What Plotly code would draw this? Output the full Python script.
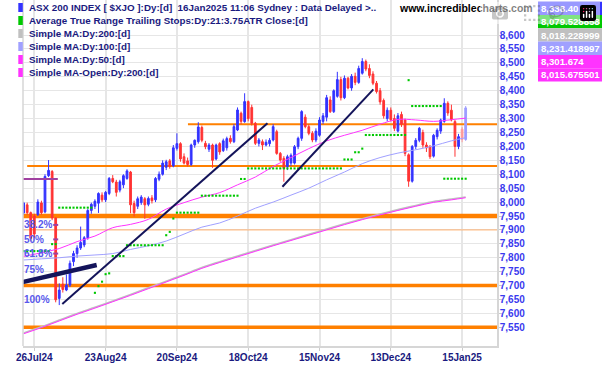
import plotly.graph_objects as go

# ---------------- data ----------------
date_tick_idx = [3, 23, 43, 63, 83, 103, 123]
date_tick_labels = ["26Jul24", "23Aug24", "20Sep24", "18Oct24", "15Nov24", "13Dec24", "15Jan25"]

opens = [7961, 7990, 7962, 7950, 7955, 7997, 7965, 8095, 8110, 7943,
         7654, 7705, 7684, 7702, 7786, 7815, 7835, 7846, 7872, 7970,
         7985, 7996, 8025, 8008, 8031, 8085, 8072, 8043, 8062, 8085,
         8108, 7995, 7985, 7998, 8012, 7992, 8015, 8008, 8082, 8100,
         8125, 8148, 8130, 8193, 8210, 8163, 8148, 8135, 8205, 8217,
         8268, 8211, 8190, 8205, 8155, 8210, 8185, 8195, 8229, 8217,
         8259, 8319, 8289, 8361, 8340, 8283, 8211, 8217, 8205, 8210,
         8223, 8253, 8175, 8157, 8127, 8140, 8140, 8199, 8229, 8305,
         8271, 8247, 8223, 8240, 8290, 8305, 8367, 8325, 8380, 8440,
         8375, 8445, 8410, 8452, 8430, 8463, 8505, 8480, 8460, 8427,
         8400, 8365, 8300, 8330, 8300, 8255, 8315, 8295, 8170, 8075,
         8200, 8222, 8250, 8205, 8200, 8165, 8235, 8255, 8290, 8355,
         8330, 8289, 8200, 8262, 8225]
highs = [8001, 7998, 7966, 7958, 8010, 8005, 8100, 8151, 8115, 7945,
         7708, 7730, 7740, 7790, 7825, 7845, 7912, 7878, 7975, 7998,
         8010, 8035, 8035, 8040, 8090, 8097, 8080, 8080, 8100, 8118,
         8112, 8005, 8020, 8025, 8018, 8020, 8025, 8090, 8110, 8150,
         8152, 8155, 8205, 8247, 8215, 8175, 8160, 8210, 8225, 8287,
         8275, 8220, 8212, 8210, 8210, 8215, 8228, 8235, 8240, 8280,
         8340, 8325, 8391, 8365, 8350, 8288, 8230, 8225, 8225, 8230,
         8280, 8260, 8180, 8165, 8170, 8175, 8205, 8235, 8330, 8315,
         8280, 8255, 8265, 8305, 8320, 8385, 8380, 8405, 8468, 8450,
         8455, 8450, 8460, 8465, 8490, 8517, 8512, 8495, 8470, 8435,
         8410, 8372, 8340, 8340, 8315, 8320, 8325, 8300, 8175, 8205,
         8230, 8270, 8260, 8215, 8205, 8245, 8265, 8300, 8373, 8362,
         8350, 8295, 8245, 8270, 8345]
lows = [7954, 7955, 7860, 7872, 7950, 7955, 7960, 8090, 7935, 7640,
        7630, 7675, 7680, 7695, 7770, 7800, 7828, 7838, 7865, 7958,
        7975, 7961, 8000, 8000, 8025, 8068, 8020, 8035, 8050, 8080,
        7960, 7948, 7975, 7990, 7940, 7985, 7995, 8000, 8075, 8095,
        8115, 8120, 8125, 8185, 8145, 8135, 8128, 8130, 8195, 8210,
        8215, 8190, 8180, 8123, 8150, 8170, 8180, 8185, 8210, 8212,
        8255, 8280, 8285, 8290, 8275, 8205, 8200, 8187, 8200, 8200,
        8218, 8170, 8145, 8073, 8115, 8130, 8135, 8190, 8220, 8265,
        8240, 8215, 8215, 8235, 8280, 8290, 8320, 8320, 8375, 8365,
        8370, 8405, 8400, 8420, 8425, 8458, 8470, 8445, 8420, 8390,
        8350, 8300, 8290, 8290, 8255, 8250, 8270, 8165, 8055, 8070,
        8190, 8215, 8195, 8180, 8155, 8160, 8225, 8245, 8285, 8310,
        8290, 8163, 8190, 8215, 8220]
closes = [7997, 7962, 7870, 7885, 8000, 7962, 8092, 8114, 7943, 7649,
          7684, 7686, 7702, 7780, 7815, 7835, 7855, 7872, 7970, 7992,
          8003, 8031, 8008, 8035, 8085, 8073, 8035, 8073, 8095, 8112,
          7990, 7962, 8012, 8018, 7990, 8013, 8005, 8085, 8100, 8140,
          8145, 8128, 8195, 8210, 8155, 8140, 8135, 8205, 8222, 8270,
          8222, 8199, 8205, 8150, 8205, 8180, 8220, 8228, 8217, 8271,
          8331, 8290, 8361, 8300, 8283, 8211, 8223, 8205, 8215, 8222,
          8271, 8175, 8151, 8121, 8163, 8168, 8199, 8229, 8325, 8271,
          8247, 8223, 8255, 8295, 8310, 8375, 8325, 8400, 8440, 8375,
          8445, 8410, 8452, 8430, 8480, 8505, 8478, 8455, 8427, 8397,
          8360, 8310, 8330, 8296, 8265, 8310, 8280, 8175, 8075, 8200,
          8222, 8265, 8205, 8195, 8163, 8240, 8258, 8295, 8355, 8320,
          8295, 8200, 8235, 8225, 8338.4]

atr_stop = [7824, 7824, 7824, 7824, 7824, 7824, 7824, 7824, 7849, 7849,
            7980, 7980, 7980, 7980, 7980, 7980, 7980, 7980, 7980, 7980,
            7674, 7698, 7714, 7741, 7744, 7806, 7806, 7806, 7806, 7845,
            7845, 7845, 7845, 7845, 7845, 7845, 7845, 7845, 7845, 7845,
            7881, 7893, 7941, 7962, 7962, 7962, 7962, 7962, 7962, 7962,
            8023, 8023, 8023, 8023, 8023, 8023, 8023, 8023, 8023, 8023,
            8023, 8083, 8083, 8121, 8121, 8121, 8121, 8121, 8121, 8121,
            8121, 8121, 8121, 8121, 8121, 8121, 8121, 8121, 8121, 8121,
            8121, 8121, 8121, 8121, 8121, 8121, 8121, 8121, 8121, 8121,
            8153, 8153, 8153, 8179, 8179, 8192, 8241, 8241, 8241, 8241,
            8241, 8241, 8241, 8241, 8241, 8241, 8241, 8241, 8438, 8345,
            8345, 8345, 8345, 8345, 8345, 8345, 8345, 8345, 8084, 8084,
            8084, 8084, 8084, 8084, 8084]

ma_idx = [0, 5, 10, 15, 20, 25, 30, 35, 40, 45, 50, 55, 60, 65, 70, 75,
          80, 85, 90, 95, 100, 105, 110, 115, 120, 124]
ma50 = [7805, 7818, 7833, 7858, 7878, 7908, 7920, 7938, 7975, 7998, 8018, 8034, 8062,
        8090, 8128, 8160, 8192, 8220, 8240, 8258, 8280, 8297, 8295, 8290, 8296, 8301.674]
ma100 = [7792, 7796, 7800, 7806, 7810, 7815, 7830, 7843, 7860, 7885, 7910, 7925, 7950,
         7978, 8000, 8025, 8050, 8080, 8108, 8138, 8160, 8176, 8188, 8202, 8220, 8231.419]
ma200 = [7530, 7552, 7576, 7600, 7622, 7645, 7668, 7692, 7716, 7740, 7765, 7786, 7806,
         7826, 7846, 7865, 7884, 7903, 7922, 7940, 7957, 7973, 7988, 8002, 8011, 8018.229]
ma200_open = [7527, 7549, 7573, 7597, 7619, 7642, 7665, 7689, 7713, 7737, 7762, 7783, 7803,
              7823, 7843, 7862, 7881, 7900, 7919, 7937, 7954, 7970, 7985, 7999, 8008, 8015.676]

level_prices = [8280, 8130, 7950, 7900, 7700, 7550]
level_start_idx = [46.1, 1.0, -0.5, -0.5, -0.5, -0.5]

fib_labels = ["38.2%", "50%", "61.8%", "75%", "100%"]
fib_prices = [7918, 7866, 7815, 7758, 7650]
fib_top_price = 8083
fib_tick_prices = [7918, 7866, 7815]

trend_thick_x = [-0.45, 20.5]
trend_thick_y = [7712, 7774]
trend1_x = [10.85, 68.4]
trend1_y = [7634, 8283]
trend2_x = [72.6, 98.1]
trend2_y = [8055, 8405]

legend_texts = [
    "ASX 200 INDEX [ $XJO ]:Dy:[d] \u00a016Jan2025 11:06 Sydney : Data Delayed &gt;..",
    "Average True Range Trailing Stops:Dy:21:3.75ATR Close:[d]",
    "Simple MA:Dy:200:[d]",
    "Simple MA:Dy:100:[d]",
    "Simple MA:Dy:50:[d]",
    "Simple MA-Open:Dy:200:[d]",
]
value_labels = ["8,338.40", "8,079.528858", "8,018.228999", "8,231.418997", "8,301.674", "8,015.675501"]
y_tick_vals = [7550, 7600, 7650, 7700, 7750, 7800, 7850, 7900, 7950, 8000, 8050, 8100,
               8150, 8200, 8250, 8300, 8350, 8400, 8450, 8500, 8550, 8600]

# ---------------- styles ----------------
BLUE = "#3333ff"
RED = "#ff3333"
GREEN = "#00c800"
GRAY = "#c0c0c0"
LAV = "#a0a0ff"
MAG = "#ff33ff"
NAVY = "#1a1a80"
ORANGE = "#ff8000"
FONT = "Arial, Liberation Sans, sans-serif"
legend_colors = [BLUE, GREEN, GRAY, LAV, MAG, MAG]
level_widths = [2, 2, 4.5, 1, 3.5, 3.5]
level_colors = [ORANGE, ORANGE, ORANGE, "#ffb070", ORANGE, ORANGE]

W, H = 602, 365
ML, MR, MT, MB = 23, 105, 0, 19
PW = W - ML - MR
PH = H - MT - MB
XR = [-0.17, 132.79]
YR = [7483, 8726]


def pxx(px):
    return (px - ML) / PW


def pxy(py):
    return 1 - (py - MT) / PH


n = len(closes)
idx = list(range(n))
main_n = n - 2

fig = go.Figure()

fig.add_trace(go.Scatter(x=ma_idx, y=ma200, mode="lines", line=dict(color=GRAY, width=1.6, shape="spline"),
                         hoverinfo="skip"))
fig.add_trace(go.Scatter(x=ma_idx, y=ma200_open, mode="lines", line=dict(color=MAG, width=1, shape="spline"),
                         hoverinfo="skip"))
fig.add_trace(go.Scatter(x=ma_idx, y=ma100, mode="lines", line=dict(color=LAV, width=1, shape="spline"),
                         hoverinfo="skip"))
fig.add_trace(go.Scatter(x=ma_idx, y=ma50, mode="lines", line=dict(color=MAG, width=1, shape="spline"),
                         hoverinfo="skip"))
fig.add_trace(go.Scatter(x=idx, y=atr_stop, mode="markers",
                         marker=dict(symbol="square", size=2.1, color=GREEN, line=dict(width=0)),
                         hoverinfo="skip"))

fig.add_trace(go.Candlestick(
    x=idx[:main_n], open=opens[:main_n], high=highs[:main_n], low=lows[:main_n], close=closes[:main_n],
    increasing=dict(line=dict(color=BLUE, width=1), fillcolor=BLUE),
    decreasing=dict(line=dict(color=RED, width=1), fillcolor=RED),
    whiskerwidth=0, hoverinfo="skip"))
fig.add_trace(go.Candlestick(
    x=idx[main_n:], open=opens[main_n:], high=highs[main_n:], low=lows[main_n:], close=closes[main_n:],
    increasing=dict(line=dict(color="#9d9dff", width=1), fillcolor="#9d9dff"),
    decreasing=dict(line=dict(color="#ff9a9a", width=1), fillcolor="#ff9a9a"),
    whiskerwidth=0, hoverinfo="skip"))

fig.add_trace(go.Scatter(x=trend_thick_x, y=trend_thick_y, mode="lines",
                         line=dict(color="#14145a", width=4.5), hoverinfo="skip"))
fig.add_trace(go.Scatter(x=trend1_x, y=trend1_y, mode="lines",
                         line=dict(color="#14145a", width=2), hoverinfo="skip"))
fig.add_trace(go.Scatter(x=trend2_x, y=trend2_y, mode="lines",
                         line=dict(color="#14145a", width=2), hoverinfo="skip"))

shapes = []
for p, s, w, c in zip(level_prices, level_start_idx, level_widths, level_colors):
    shapes.append(dict(type="line", xref="x", yref="y", x0=s, x1=XR[1], y0=p, y1=p,
                       line=dict(color=c, width=w), layer="between"))
shapes.append(dict(type="line", xref="x", yref="y", x0=-0.4, x1=9.6, y0=fib_top_price, y1=fib_top_price,
                   line=dict(color="#a040a0", width=2)))
for p in fib_tick_prices:
    shapes.append(dict(type="line", xref="x", yref="y", x0=8.3, x1=9.7, y0=p, y1=p,
                       line=dict(color="#a040a0", width=2)))
# left frame line
shapes.append(dict(type="line", xref="paper", yref="paper", x0=0, x1=0, y0=0, y1=1,
                   line=dict(color="#d6d6d6", width=1.5)))

annotations = []
for lab, p in zip(fib_labels, fib_prices):
    annotations.append(dict(xref="paper", yref="y", x=pxx(21.5), y=p, text=lab, showarrow=False,
                            xanchor="left", yanchor="middle",
                            font=dict(family=FONT, size=10, color="#5858ec", weight="bold")))

for k, (txt, col) in enumerate(zip(legend_texts, legend_colors)):
    cy = 7.5 + 13 * k
    shapes.append(dict(type="rect", xref="paper", yref="paper", x0=pxx(18.3), x1=pxx(22.8),
                       y0=pxy(cy + 4.5), y1=pxy(cy - 4.5), fillcolor=col, line=dict(width=0)))
    annotations.append(dict(xref="paper", yref="paper", x=pxx(27), y=pxy(cy), text=txt, showarrow=False,
                            xanchor="left", yanchor="middle",
                            font=dict(family=FONT, size=9.8, color=NAVY, weight="bold")))

annotations.append(dict(xref="paper", yref="paper", x=pxx(397), y=pxy(7.5), text="www.incrediblecharts.com",
                        showarrow=False, xanchor="left", yanchor="middle",
                        font=dict(family=FONT, size=10.5, color="#000000", weight="bold")))

for k, (txt, col) in enumerate(zip(value_labels, legend_colors)):
    top = 1.7 + 13.3 * k
    shapes.append(dict(type="rect", xref="paper", yref="paper", x0=pxx(538), x1=pxx(603),
                       y0=pxy(top + 13.3), y1=pxy(top), fillcolor=col, line=dict(width=0)))
    annotations.append(dict(xref="paper", yref="paper", x=pxx(538.5), y=pxy(top + 6.8), text=txt,
                            showarrow=False, xanchor="left", yanchor="middle",
                            font=dict(family=FONT, size=9.6, color="#ffffff", weight="bold")))

fig.update_layout(
    width=W, height=H, margin=dict(l=ML, r=MR, t=MT, b=MB),
    paper_bgcolor="white", plot_bgcolor="white", showlegend=False,
    shapes=shapes, annotations=annotations,
    xaxis=dict(range=XR, tickvals=date_tick_idx, ticktext=date_tick_labels, showgrid=True,
               gridcolor="#e6e6e6", gridwidth=1.5, zeroline=False, ticks="outside", ticklen=3,
               tickcolor="#cccccc", showline=True, linecolor="#d6d6d6", linewidth=2,
               tickfont=dict(family=FONT, size=10, color=NAVY, weight="bold"),
               ticklabelstandoff=-2,
               rangeslider=dict(visible=False), fixedrange=True),
    yaxis=dict(range=YR, side="right", tickvals=y_tick_vals, tickformat=",", showgrid=True,
               gridcolor="#e6e6e6", gridwidth=1, zeroline=False, ticks="outside", ticklen=3,
               tickcolor="#cccccc", showline=True, linecolor="#d6d6d6", linewidth=1.5,
               ticklabelstandoff=-4,
               tickfont=dict(family=FONT, size=10, color="#3a3aee", weight="bold"), fixedrange=True),
)

fig.write_html("out.html", post_script="document.body.style.margin='0px';document.body.style.overflow='hidden';")
